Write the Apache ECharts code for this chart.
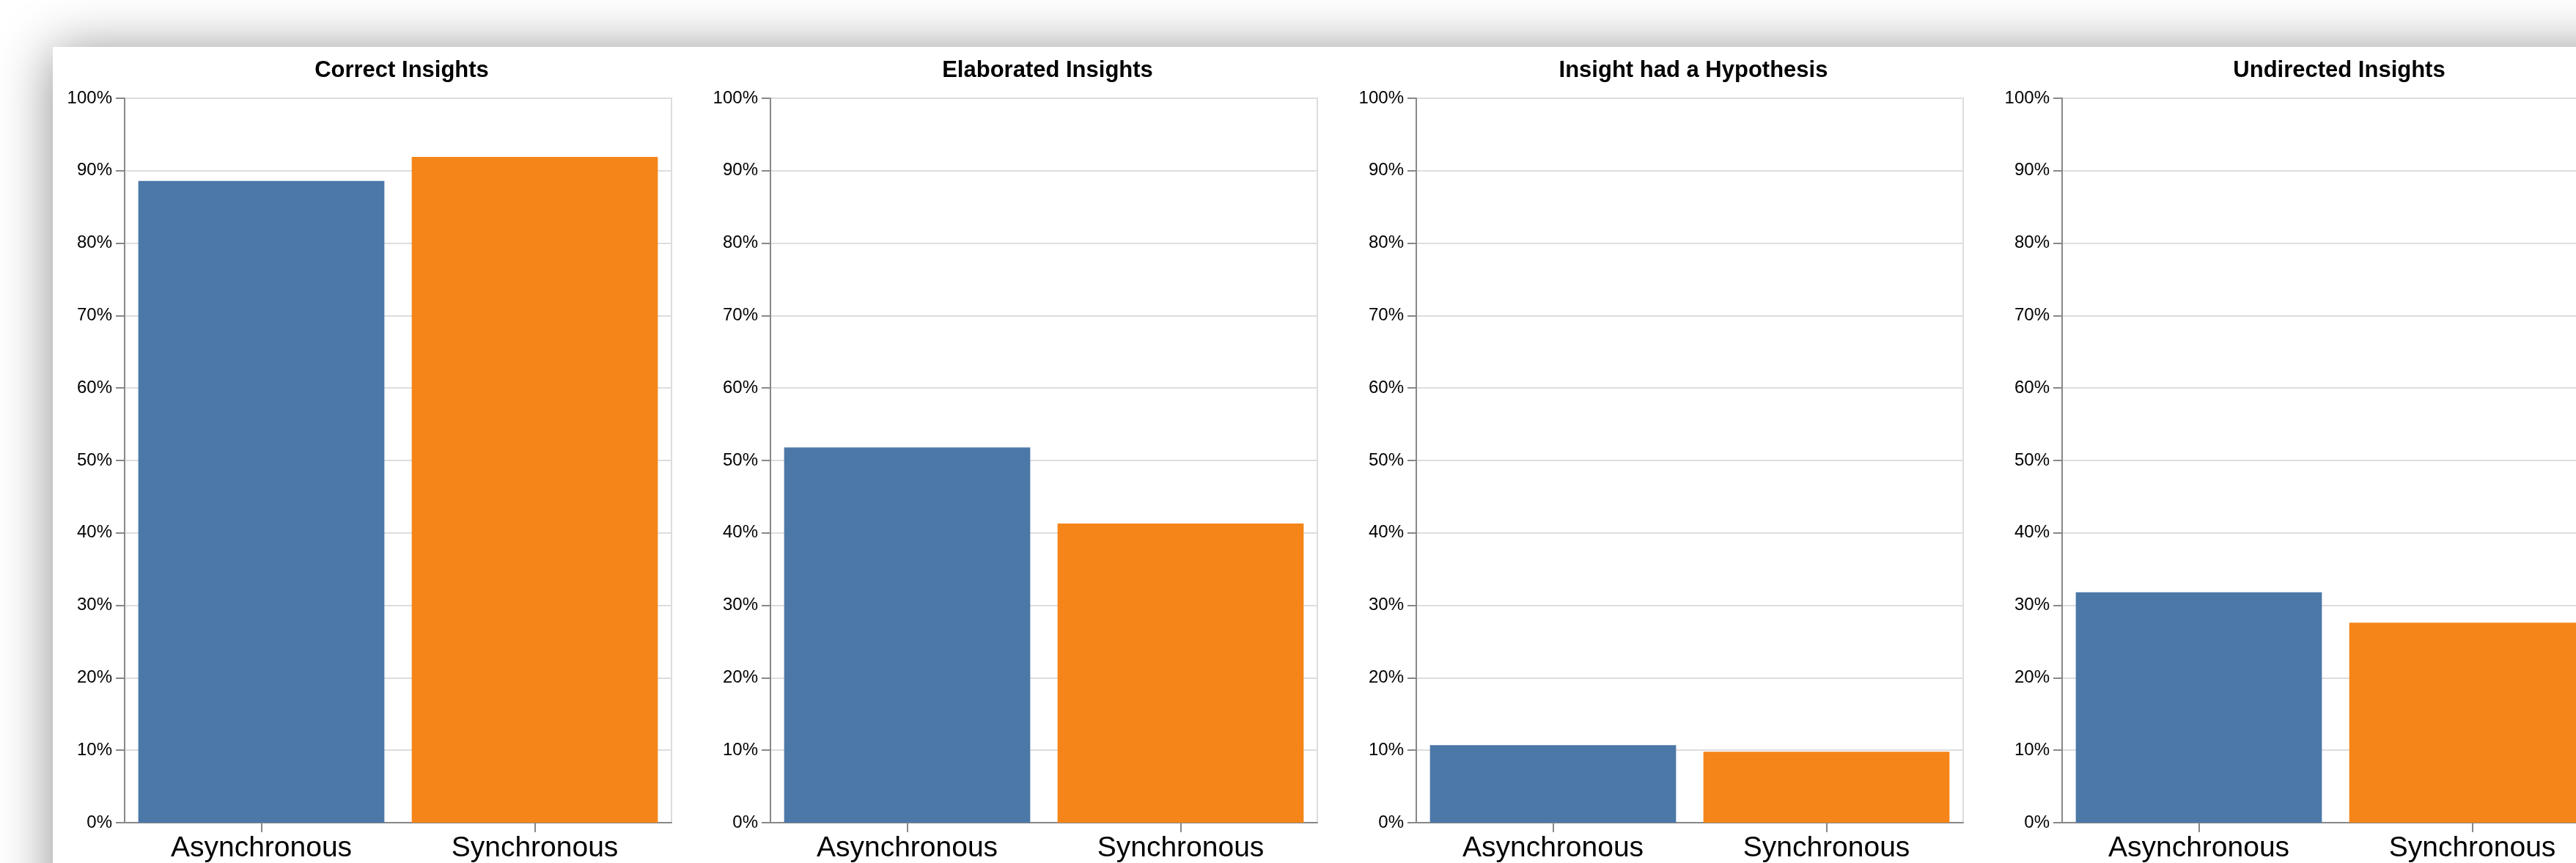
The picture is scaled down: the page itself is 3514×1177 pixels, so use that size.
<!DOCTYPE html>
<html>
<head>
<meta charset="utf-8">
<script src="https://cdn.jsdelivr.net/npm/echarts@6/dist/echarts.min.js"></script>
<style>
  html, body { margin: 0; padding: 0; width: 3514px; height: 1177px; overflow: hidden; background: #ffffff; }
  #card { position: absolute; left: 72px; top: 64px; width: 3600px; height: 1300px; background: #ffffff;
          box-shadow: 0 6px 70px rgba(0,0,0,0.45); }
  #chart { position: absolute; left: 0; top: 0; width: 3700px; height: 1177px; }
</style>
</head>
<body>
<div id="card"></div>
<div id="chart"></div>
<script>
// ---- data ----
const categories = ['Asynchronous', 'Synchronous'];
const panelTitles = ['Correct Insights', 'Elaborated Insights', 'Insight had a Hypothesis', 'Undirected Insights'];
const asyncValues = [88.6, 51.8, 10.7, 31.8];
const syncValues  = [91.9, 41.3, 9.8, 27.6];
const categoryColors = ['#4c78a8', '#f58518'];

// ---- layout / style ----
const FONT = "'Liberation Sans', Arial, Helvetica, sans-serif";
const firstLeft = 170, step = 881, plotWidth = 746, plotTop = 134, plotHeight = 994;

const grids = [], xAxes = [], yAxes = [], series = [], titles = [];
panelTitles.forEach(function (t, i) {
  const left = firstLeft + i * step;
  grids.push({
    left: left, top: plotTop, width: plotWidth, height: plotHeight,
    show: true, borderColor: '#dddddd', borderWidth: 2, backgroundColor: 'transparent'
  });
  titles.push({
    text: t, left: left + plotWidth / 2, top: 76, textAlign: 'center',
    textStyle: { fontFamily: FONT, fontSize: 31, fontWeight: 'bold', color: '#000' }
  });
  xAxes.push({
    type: 'category', gridIndex: i, data: categories,
    axisLine: { show: true, lineStyle: { color: '#888', width: 2 } },
    axisTick: { show: true, alignWithLabel: true, length: 13, lineStyle: { color: '#888', width: 2 } },
    axisLabel: { fontFamily: FONT, fontSize: 39, color: '#000', margin: 16 },
    splitLine: { show: false }
  });
  yAxes.push({
    type: 'value', gridIndex: i, min: 0, max: 100, interval: 10,
    axisLine: { show: true, lineStyle: { color: '#888', width: 2 } },
    axisTick: { show: true, length: 12, lineStyle: { color: '#888', width: 2 } },
    axisLabel: { fontFamily: FONT, fontSize: 24, color: '#000', margin: 17, formatter: '{value}%' },
    splitLine: { show: true, lineStyle: { color: '#dddddd', width: 2 } }
  });
  series.push({
    type: 'bar', xAxisIndex: i, yAxisIndex: i, barCategoryGap: '10%',
    data: [
      { value: asyncValues[i], itemStyle: { color: categoryColors[0] } },
      { value: syncValues[i],  itemStyle: { color: categoryColors[1] } }
    ],
    animation: false
  });
});

const chart = echarts.init(document.getElementById('chart'), null, { renderer: 'canvas' });
chart.setOption({
  backgroundColor: 'transparent',
  animation: false,
  title: titles,
  grid: grids,
  xAxis: xAxes,
  yAxis: yAxes,
  series: series
});
</script>
</body>
</html>
